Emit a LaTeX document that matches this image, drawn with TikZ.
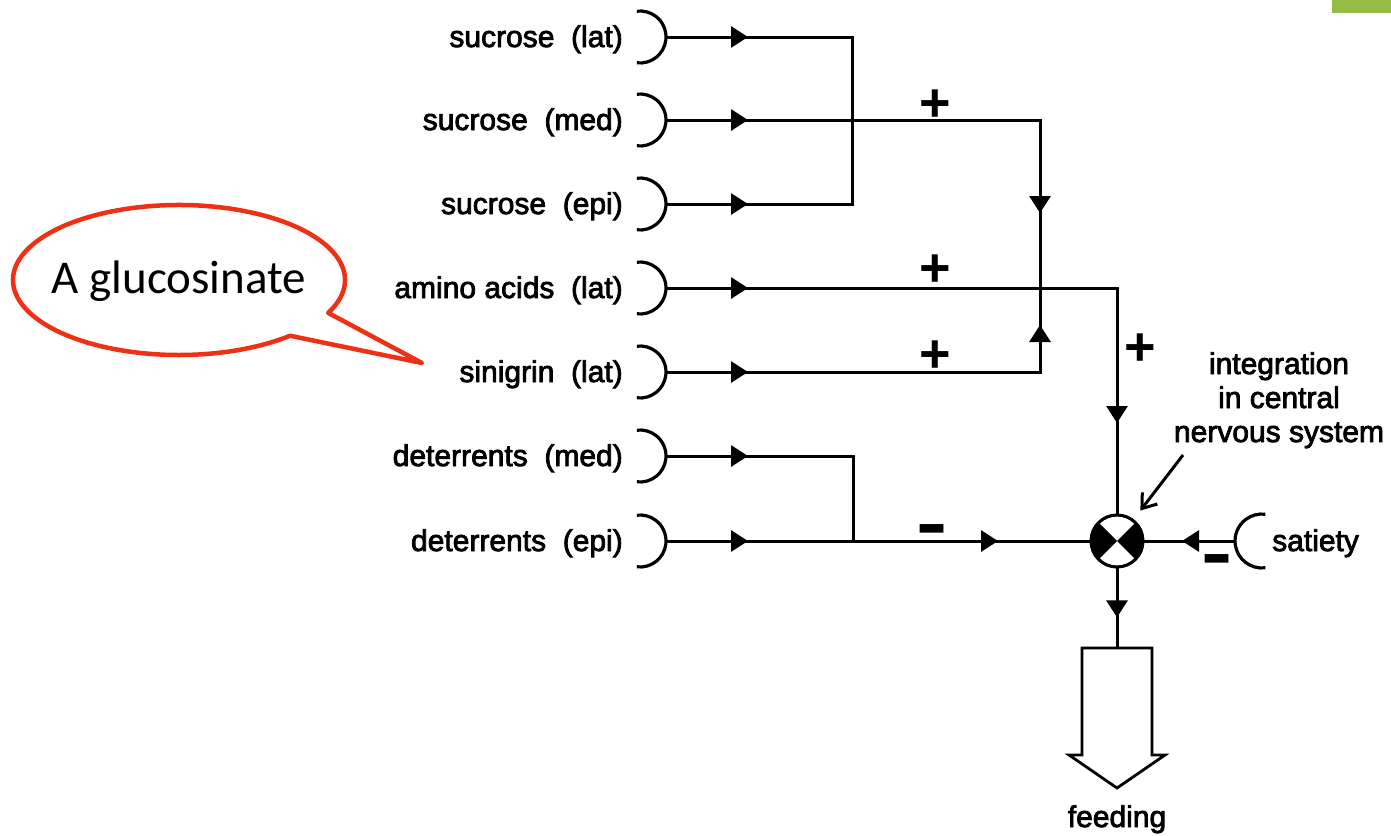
\documentclass[tikz,border=0pt]{standalone}
\usepackage{fontspec}
\setmainfont{Liberation Sans}
\newfontfamily\lbfamily{Liberation Sans}[FakeBold=2.6]
\newfontfamily\calloutfont{Carlito}
\usetikzlibrary{arrows.meta,decorations.markings,calc}

\definecolor{callred}{RGB}{238,48,20}
\definecolor{leafgreen}{RGB}{150,188,72}

\newcommand\lbfont{\lbfamily\fontsize{30}{34}\selectfont}
\newcommand\plusfont{\fontsize{54}{54}\selectfont\bfseries}
\newcommand\minusfont{\fontsize{72}{72}\selectfont\bfseries}

\tikzset{
  >={Triangle[length=17pt,width=21pt]},
  wire/.style={line width=3pt},
  recarc/.style={line width=3.2pt},
  lbl/.style={font=\lbfont, anchor=base east, inner sep=0pt},
  plussign/.style={font=\plusfont, anchor=base, inner sep=0pt},
  minussign/.style={font=\minusfont, anchor=base, inner sep=0pt},
  % a wire with one filled head 82pt after its start
  sig/.style={wire, postaction={decorate},
    decoration={markings, mark=at position 82pt with {\arrow{>}}}},
  % a wire with a head at 82pt and a second one further on
  sigx/.style={wire, postaction={decorate},
    decoration={markings, mark=at position 82pt with {\arrow{>}},
                mark=at position #1 with {\arrow{>}}}},
  % a wire with a single head at a chosen distance
  sigat/.style={wire, postaction={decorate},
    decoration={markings, mark=at position #1 with {\arrow{>}}}},
  recep/.pic={\draw[recarc] (97:26) arc[start angle=97,end angle=-97,radius=26];},
  recepleft/.pic={\draw[recarc] (83:27) arc[start angle=83,end angle=277,radius=27];},
}

\begin{document}
\begin{tikzpicture}[x=1pt,y=-1pt]
\useasboundingbox (0,0) rectangle (1391,835);

% corner tab
\fill[leafgreen] (1332,0) rectangle (1391,13);

% sensory inputs: label, receptor cup and start of the wire
\foreach \n/\y/\t in {suLat/37/sucrose~~(lat), suMed/120/sucrose~~(med),
                      suEpi/204/sucrose~~(epi), amLat/288/amino acids~~(lat),
                      siLat/372/sinigrin~~(lat), deMed/456/deterrents~~(med),
                      deEpi/541/deterrents~~(epi)}{
  \node[lbl] (\n Txt) at (623,\y+10) {\t};
  \pic at (640,\y) {recep};
  \coordinate (\n) at (666,\y);
}

% integration node
\node[circle, draw, line width=2.8pt, minimum size=52pt, inner sep=0pt] (cns) at (1117,541) {};
\fill (cns.center) -- ++(135:26) arc[start angle=135,end angle=225,radius=26] -- cycle;
\fill (cns.center) -- ++(-45:26) arc[start angle=-45,end angle=45,radius=26] -- cycle;
\draw[line width=2.8pt] (cns.center) circle[radius=26];

% junctions
\coordinate (jSu) at (852,120);
\coordinate (kAm) at (1040,288);
\coordinate (jDe) at (853,541);
\coordinate (satIn) at (1235,541);
\coordinate (fd) at (1117,648);

% wiring
\draw[sig] (suLat) -| (jSu);
\draw[sig] (suEpi) -| (jSu);
\draw[sigx=467pt] (suMed) -| (kAm);
\draw[sigx=421pt] (siLat) -| (kAm);
\draw[sigx=586pt] (amLat) -| (cns.north);
\draw[sig] (deMed) -| (jDe);
\draw[sigx=332pt] (deEpi) -- (cns.west);
\draw[sigat=53pt] (satIn) -- (cns.east);
\draw[sigat=49pt] (cns.south) -- (fd);

% satiety input
\pic at (1262,541) {recepleft};
\node[font=\lbfont, anchor=base west, inner sep=0pt] (satTxt) at (1272,551) {satiety};

% signs
\node[plussign] (p1) at (935,121) {+};
\node[plussign] (p2) at (935,286) {+};
\node[plussign] (p3) at (935,372) {+};
\node[plussign] (p4) at (1140,365) {+};
\node[minussign] (m1) at (932,547) {\scalebox{1.3}[1]{-}};
\node[minussign] (m2) at (1217,577) {\scalebox{1.3}[1]{-}};

% CNS label and pointer
\node[font=\lbfont, align=center, anchor=base, inner sep=0pt] (cnsTxt) at (1279,442)
  {integration\\in central\\nervous system};
\coordinate (ptrA) at (1183,455);
\draw[line width=3pt, -{Straight Barb[length=13pt,width=19pt]}, shorten >=11pt] (ptrA) -- (cns);

% output block arrow
\draw[line width=2.8pt, fill=white, line join=miter]
  (fd) -- (1152,648) -- (1152,755) -- (1165,755) -- (1117,788) -- (1069,755)
  -- (1082,755) -- (1082,648) -- cycle;
\node[font=\lbfont, anchor=base, inner sep=0pt] (feedTxt) at (1117,827) {feeding};

% callout bubble
\coordinate (bubC) at (179,280);
\coordinate (bubTip) at (422,363);
\draw[callred, line width=4.5pt, line join=round, fill=white]
  ($(bubC)+(26:166 and 75)$) arc[start angle=26, end angle=-312, x radius=166, y radius=75]
  -- (bubTip) -- cycle;
\node[font=\calloutfont\fontsize{47}{50}\selectfont, anchor=base, inner sep=0pt] (gluc) at (179,293) {A glucosinate};
\end{tikzpicture}
\end{document}
